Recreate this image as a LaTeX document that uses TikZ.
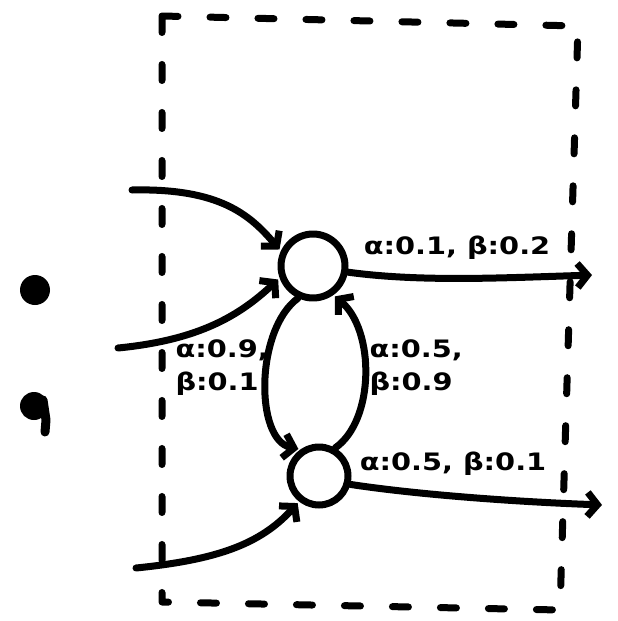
\documentclass[tikz,border=0pt]{standalone}
\usepackage{fontspec}
\newfontfamily\hand[FakeStretch=1.2]{DejaVu Sans}
\usetikzlibrary{arrows.meta}
\begin{document}
\begin{tikzpicture}[x=1pt,y=-1pt, line width=7pt, line cap=round, line join=round,
  st/.style={circle, draw, line width=7pt, minimum size=64pt, inner sep=0pt},
  arr/.style={-{Straight Barb[length=10pt,width=24pt,line width=7pt]}, shorten >=2pt},
  lbl/.style={font=\hand\bfseries\fontsize{24}{33}\selectfont, inner sep=0pt},
  boxline/.style={dash pattern=on 16pt off 32pt}]
\useasboundingbox (0,0) rectangle (618,621);
% dashed frame
\draw[boxline] (162,16) -- (578,26) -- (560,610) -- (162,602) -- cycle;
% states
\node[st] (t) at (313,266) {};
\node[st, minimum size=58pt] (b) at (319,476) {};
% inputs
\coordinate (i1) at (132,190);
\coordinate (i2) at (118,348);
\coordinate (i3) at (136,568);
\draw[arr] (i1) .. controls (220,188) and (250,215) .. (t.155);
\draw[arr] (i2) .. controls (200,340) and (240,315) .. (t.200);
\draw[arr] (i3) .. controls (215,560) and (260,545) .. (b.232);
% outputs
\coordinate (o1) at (594,275);
\coordinate (o2) at (604,505);
\draw[arr] (t.-10) .. controls (420,282) and (500,278) .. (o1);
\draw[arr] (b.-15) .. controls (420,495) and (520,502) .. (o2);
% between states
\draw[arr] (t.245) .. controls (255,330) and (255,440) .. (b.125);
\draw[arr] (b.60) .. controls (375,420) and (375,330) .. (t.-55);
% labels
\node[lbl, anchor=center] (l1) at (457,248) {α:0.1, β:0.2};
\node[lbl, anchor=west, align=left] (l2) at (172,368) {α:0.9,\\β:0.1};
\node[lbl, anchor=west, align=left] (l3) at (366,368) {α:0.5,\\β:0.9};
\node[lbl, anchor=center] (l4) at (453,464) {α:0.5, β:0.1};
% semicolon
\fill (35,290) circle (15);
\fill (34,406) circle (14);
\draw[line width=9pt] (43,400) -- (46,420) -- (45,432);
\end{tikzpicture}
\end{document}
